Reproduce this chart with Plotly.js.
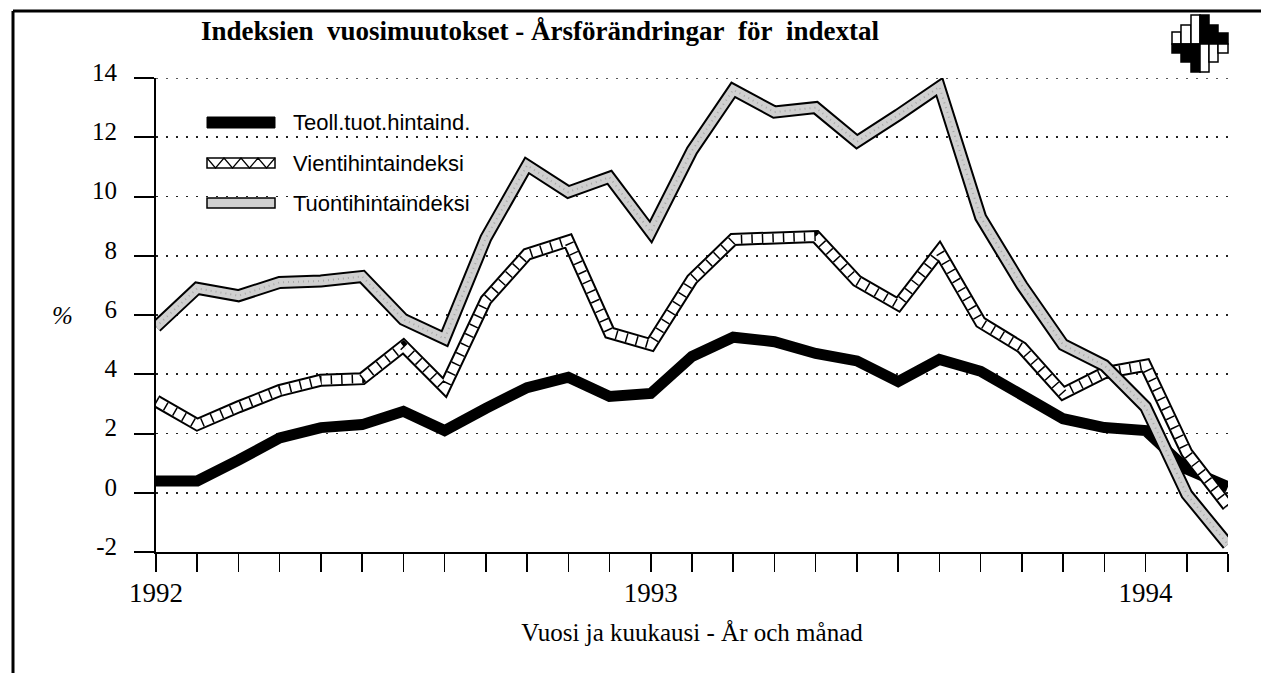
<!DOCTYPE html>
<html>
<head>
<meta charset="utf-8">
<script src="https://cdn.plot.ly/plotly-3.0.1.min.js"></script>
<style>
html,body{margin:0;padding:0;background:#fff;}
#chart{width:1261px;height:673px;}
</style>
</head>
<body>
<div id="chart"></div>
<script>
// ---- Data ----
const months = ["1992-01","1992-02","1992-03","1992-04","1992-05","1992-06","1992-07","1992-08","1992-09","1992-10","1992-11","1992-12",
                "1993-01","1993-02","1993-03","1993-04","1993-05","1993-06","1993-07","1993-08","1993-09","1993-10","1993-11","1993-12",
                "1994-01","1994-02","1994-03"];
const yearTickVals = ["1992-01","1993-01","1994-01"];
const yearTickText = ["1992","1993","1994"];
const teoll  = [0.4, 0.4, 1.1, 1.85, 2.2, 2.3, 2.75, 2.1, 2.85, 3.55, 3.9, 3.25, 3.35, 4.6, 5.25, 5.1, 4.7, 4.45, 3.75, 4.5, 4.1, 3.3, 2.5, 2.2, 2.1, 0.8, 0.2];
const vienti = [3.1, 2.3, 2.9, 3.45, 3.8, 3.85, 4.95, 3.55, 6.5, 8.05, 8.5, 5.4, 5.0, 7.2, 8.55, 8.6, 8.65, 7.15, 6.35, 8.15, 5.75, 4.9, 3.35, 4.05, 4.3, 1.35, -0.45];
const tuonti = [5.6, 6.9, 6.65, 7.1, 7.15, 7.3, 5.85, 5.2, 8.6, 11.05, 10.15, 10.65, 8.8, 11.55, 13.6, 12.85, 13.0, 11.85, 12.75, 13.7, 9.3, 7.0, 5.0, 4.3, 2.9, -0.05, -1.75];
const seriesNames = ["Teoll.tuot.hintaind.", "Vientihintaindeksi", "Tuontihintaindeksi"];
const yTicks = [-2, 0, 2, 4, 6, 8, 10, 12, 14];

// ---- Layout geometry ----
const W = 1261, H = 673;
const M = {l:156, r:33, t:78, b:121};
const PW = W - M.l - M.r, PH = H - M.t - M.b;
const px = x => (x - M.l) / PW;      // pixel -> paper x
const py = y => (H - M.b - y) / PH;  // pixel -> paper y

function tr(y, color, width, dash){
  return {x: months, y: y, type:'scatter', mode:'lines', showlegend:false, hoverinfo:'skip',
          line:{color:color, width:width, dash:dash||'solid'}};
}
const traces = [
  tr(teoll, '#000', 11),
  tr(vienti, '#000', 13),
  tr(vienti, '#fff', 9),
  tr(vienti, '#000', 9, '1.5px,9px'),
  tr(tuonti, '#000', 13),
  tr(tuonti, '#d0d0d0', 9),
  tr(tuonti, '#a8a8a8', 2, '1px,4px')
];

const shapes = [];
const annotations = [];
// top gridline at 14 (coincides with plot edge)
shapes.push({type:'line', xref:'paper', yref:'y', x0:0, x1:1, y0:14, y1:14, line:{color:'#222', width:1.6, dash:'2px,8px'}});
// frame
shapes.push({type:'line', xref:'paper', yref:'paper', x0:px(13), x1:px(1261), y0:py(11), y1:py(11), line:{color:'#000', width:3}});
shapes.push({type:'line', xref:'paper', yref:'paper', x0:px(13), x1:px(13), y0:py(11), y1:py(673), line:{color:'#000', width:3}});

// legend (drawn manually)
const legY = [123, 163, 203];
function rect(x0,y0,x1,y1,fill,lw){
  shapes.push({type:'rect', xref:'paper', yref:'paper', x0:px(x0), x1:px(x1), y0:py(y0), y1:py(y1),
               fillcolor:fill, line:{color:'#000', width:lw}});
}
rect(207, legY[0]-6, 275, legY[0]+5, '#000', 1);
rect(207, legY[1]-5, 275, legY[1]+5, '#fff', 1.5);
let zz = '';
for (let i = 0; i <= 4; i++){
  const xa = 207 + i*17;
  zz += (i===0 ? 'M' : 'L') + px(xa) + ',' + py(legY[1]-5) + ' ';
  if (i < 4) zz += 'L' + px(xa+8.5) + ',' + py(legY[1]+5) + ' ';
}
shapes.push({type:'path', xref:'paper', yref:'paper', path:zz, line:{color:'#000', width:1.2}});
rect(207, legY[2]-5, 275, legY[2]+5, '#d0d0d0', 1.5);
seriesNames.forEach((n,i)=>{
  annotations.push({xref:'paper', yref:'paper', x:px(291), y:py(legY[i]), xanchor:'left', yanchor:'middle',
    text:n, showarrow:false, font:{family:'Liberation Sans, Arial, sans-serif', size:22, color:'#000'}});
});

// % label
annotations.push({xref:'paper', yref:'paper', x:px(62), y:py(315), xanchor:'center', yanchor:'middle',
  text:'<i>%</i>', showarrow:false, font:{family:'Liberation Serif, Times New Roman, serif', size:25, color:'#000'}});

// logo
const logoCols = [
  [1172,1181,32,44,'#fff',44,53,'#000'],
  [1181,1191,25,44,'#fff',44,62,'#000'],
  [1191,1200,15,44,'#fff',44,72,'#000'],
  [1200,1209,15,44,'#000',44,72,'#fff'],
  [1209,1218,25,44,'#000',44,62,'#fff'],
  [1218,1228,33,44,'#000',44,53,'#fff']
];
logoCols.forEach(c=>{
  rect(c[0], c[2], c[1], c[3], c[4], 1.5);
  rect(c[0], c[5], c[1], c[6], c[7], 1.5);
});

const serif = 'Liberation Serif, Times New Roman, serif';
const layout = {
  width:W, height:H,
  margin:{l:M.l, r:M.r, t:M.t, b:M.b, pad:0},
  paper_bgcolor:'#fff', plot_bgcolor:'#fff',
  showlegend:false,
  title:{text:'<b>Indeksien&nbsp;&nbsp;vuosimuutokset - Årsförändringar&nbsp;&nbsp;för&nbsp;&nbsp;indextal</b>',
         x:540/W, xanchor:'center', xref:'container', y:1-31/H, yanchor:'middle', yref:'container',
         font:{family:serif, size:27, color:'#000'}},
  xaxis:{type:'category', categoryorder:'array', categoryarray:months, range:[0, months.length-1],
         tickmode:'array', tickvals:months, ticktext:months.map(m => { const k = yearTickVals.indexOf(m); return k>=0 ? yearTickText[k] : ''; }),
         ticks:'outside', ticklen:18, tickwidth:1.5, tickcolor:'#000',
         showline:true, linecolor:'#000', linewidth:2, showgrid:false, zeroline:false,
         tickfont:{family:serif, size:27, color:'#000'}, ticklabelstandoff:-2,
         title:{text:'Vuosi ja kuukausi - År och månad', font:{family:serif, size:25, color:'#000'}, standoff:16}},
  yaxis:{range:[-2,14], tickmode:'array', tickvals:yTicks, ticktext:yTicks.map(String),
         ticks:'outside', ticklen:20, tickwidth:2, tickcolor:'#000',
         showline:true, linecolor:'#000', linewidth:2, zeroline:false,
         showgrid:true, gridcolor:'#222', gridwidth:1.6, griddash:'2px,8px',
         tickfont:{family:serif, size:25, color:'#000'}, ticklabelstandoff:12, ticklabelshift:-6},
  shapes:shapes, annotations:annotations
};
Plotly.newPlot('chart', traces, layout, {staticPlot:true, displayModeBar:false});
</script>
</body>
</html>
